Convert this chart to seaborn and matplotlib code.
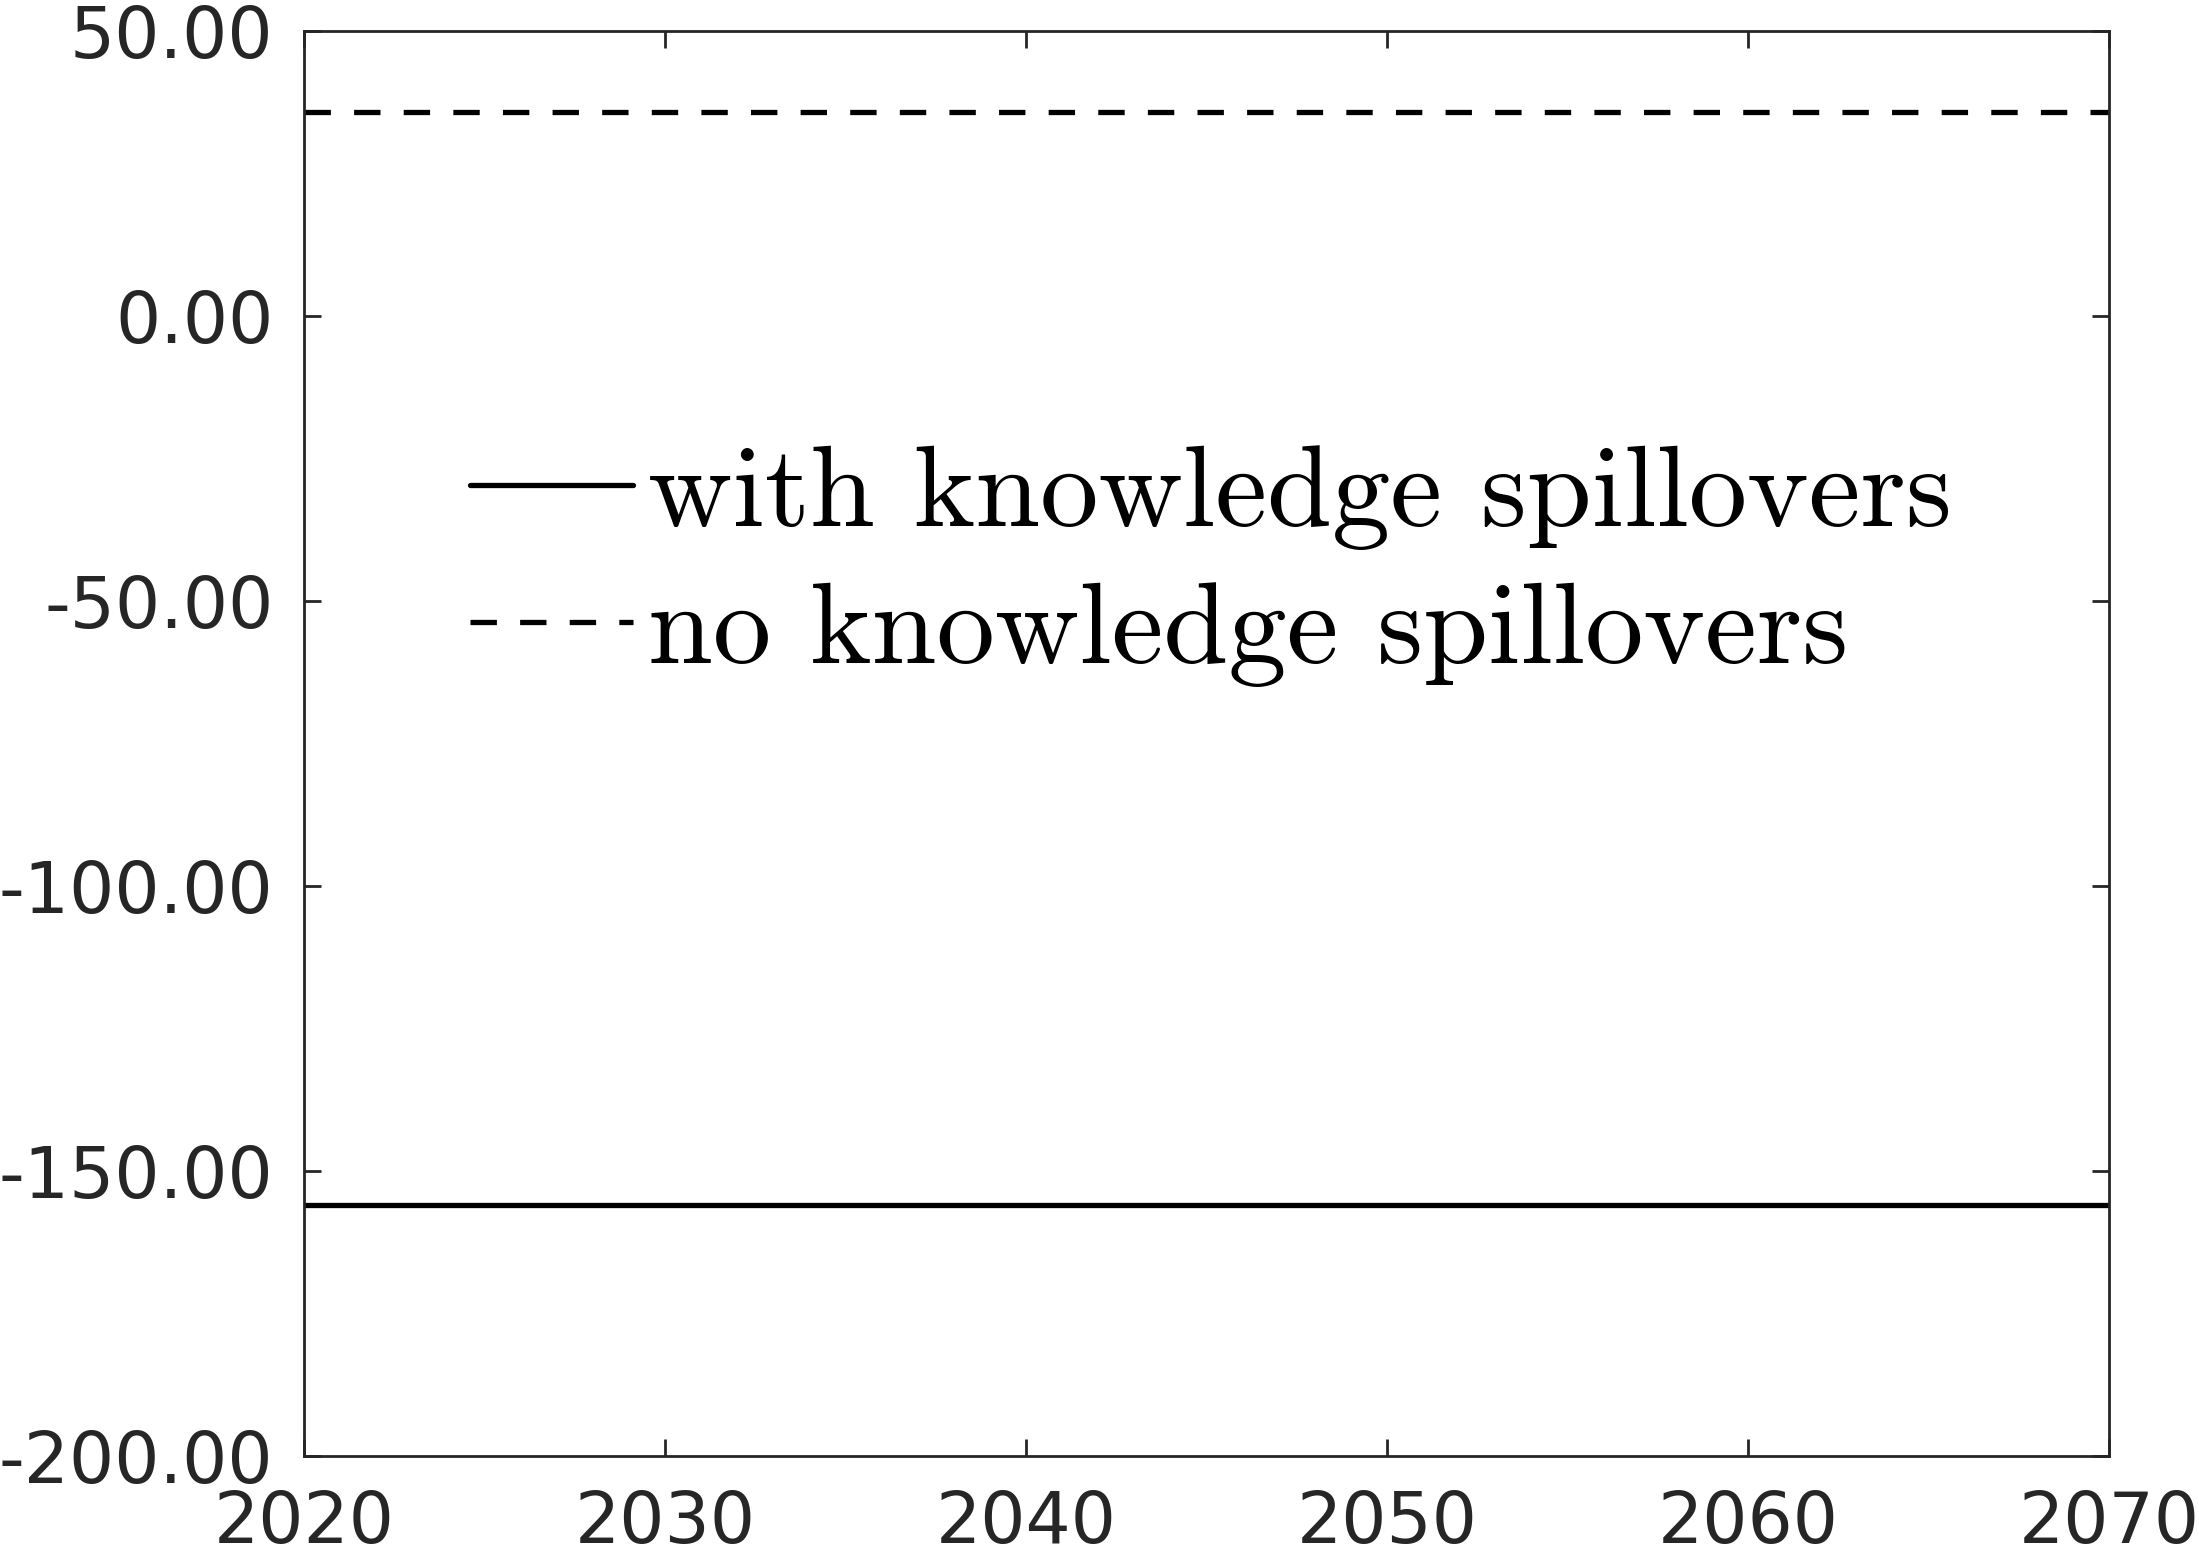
import matplotlib
matplotlib.use("Agg")
import matplotlib.pyplot as plt
import seaborn as sns
import pandas as pd
from matplotlib.ticker import FuncFormatter, FixedLocator

# Data
years = [2020, 2030, 2040, 2050, 2060, 2070]
with_spill = [-156.0, -156.0, -156.0, -156.0, -156.0, -156.0]
no_spill = [35.8, 35.8, 35.8, 35.8, 35.8, 35.8]
series_names = ["with knowledge spillovers", "no knowledge spillovers"]
yticks = [-200, -150, -100, -50, 0, 50]
xticks = [2020, 2030, 2040, 2050, 2060, 2070]

df = pd.DataFrame({
    "year": years * 2,
    "value": with_spill + no_spill,
    "series": [series_names[0]] * len(years) + [series_names[1]] * len(years),
})

sns.set_theme(style="ticks")
plt.rcParams["font.family"] = ["DejaVu Sans"]

fig = plt.figure(figsize=(2199 / 200, 1554 / 200), dpi=200)
ax = fig.add_axes([304 / 2199, 1 - 1456 / 1554, (2109 - 304) / 2199, (1456 - 31.3) / 1554])

sns.lineplot(data=df, x="year", y="value", hue="series", style="series",
             hue_order=series_names, style_order=series_names,
             palette=["black", "black"],
             dashes={series_names[0]: "", series_names[1]: (5, 4.4)},
             linewidth=1.9, ax=ax, legend=True)

ax.set_xlim(2020, 2070)
ax.set_ylim(-200, 50)
ax.xaxis.set_major_locator(FixedLocator(xticks))
ax.yaxis.set_major_locator(FixedLocator(yticks))
ax.yaxis.set_major_formatter(FuncFormatter(lambda v, p: f"{v:.2f}"))
ax.xaxis.set_major_formatter(FuncFormatter(lambda v, p: f"{int(round(v))}"))
ax.set_xlabel("")
ax.set_ylabel("")

for s in ax.spines.values():
    s.set_visible(True)
    s.set_linewidth(1.0)
    s.set_color("#262626")

ax.tick_params(axis="both", which="major", direction="in", length=6.1, width=1.0,
               color="#262626", labelcolor="#262626", labelsize=25.6,
               top=True, right=True)
ax.tick_params(axis="y", pad=11)
ax.tick_params(axis="x", pad=12)

handles, labels = ax.get_legend_handles_labels()
leg = ax.legend(handles, labels, loc="center left", bbox_to_anchor=(0.092, 0.625),
                frameon=False, borderpad=0, borderaxespad=0,
                handlelength=1.40, handletextpad=0.127, labelspacing=0.27,
                prop={"family": "cmr10", "size": 42})
for t in leg.get_texts():
    t.set_color("black")

fig.savefig("out.png", dpi=200)
